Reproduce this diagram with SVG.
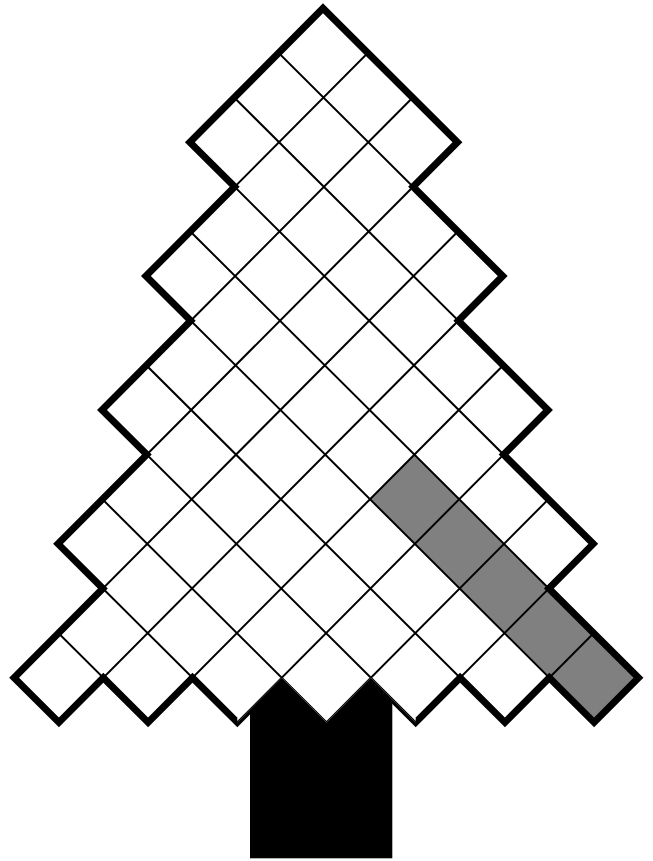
<svg xmlns="http://www.w3.org/2000/svg" width="653" height="861" viewBox="0 0 653 861">
  <defs>
    <style>
      .thin { fill: none; stroke: #000; stroke-width: 2; vector-effect: non-scaling-stroke; }
      .thick { fill: none; stroke: #000; stroke-width: 7; stroke-linejoin: miter; vector-effect: non-scaling-stroke; }
      .white { fill: #fff; stroke: none; }
      .gray { fill: #808080; stroke: none; }
    </style>
    <clipPath id="treeClip">
      <polygon points="0,0 3,0 3,1 5,1 5,2 7,2 7,3 9,3 9,4 11,4 11,5 10,5 10,6 9,6 9,7 8,7 8,8 7,8 7,9 6,9 6,10 5,10 5,11 4,11 4,9 3,9 3,7 2,7 2,5 1,5 1,3 0,3"/>
    </clipPath>
    <clipPath id="strip" clipPathUnits="userSpaceOnUse">
      <rect x="237.3" y="640" width="178.4" height="221"/>
    </clipPath>
  </defs>
  <rect width="653" height="861" fill="#fff"/>
  <g id="trunk">
    <rect x="250" y="670" width="142.3" height="188.3" fill="#000"/>
  </g>
  <g id="tree">
    <g transform="matrix(44.82 44.63 -44.38 44.63 323 8.3)">
      <polygon class="white" points="0,0 3,0 3,1 5,1 5,2 7,2 7,3 9,3 9,4 11,4 11,5 10,5 10,6 9,6 9,7 8,7 8,8 7,8 7,9 6,9 6,10 5,10 5,11 4,11 4,9 3,9 3,7 2,7 2,5 1,5 1,3 0,3"/>
      <g id="highlight">
        <rect x="6" y="4" width="5" height="1" class="gray"/>
      </g>
      <polygon class="thick" vector-effect="non-scaling-stroke" points="0,0 3,0 3,1 5,1 5,2 7,2 7,3 9,3 9,4 11,4 11,5 10,5 10,6 9,6 9,7 8,7 8,8 7,8 7,9 6,9 6,10 5,10 5,11 4,11 4,9 3,9 3,7 2,7 2,5 1,5 1,3 0,3"/>
    </g>
    <g clip-path="url(#strip)">
      <polygon transform="matrix(44.82 44.63 -44.38 44.63 323 8.3)" class="white" points="0,0 3,0 3,1 5,1 5,2 7,2 7,3 9,3 9,4 11,4 11,5 10,5 10,6 9,6 9,7 8,7 8,8 7,8 7,9 6,9 6,10 5,10 5,11 4,11 4,9 3,9 3,7 2,7 2,5 1,5 1,3 0,3"/>
    </g>
    <g id="grid" transform="matrix(44.82 44.63 -44.38 44.63 323 8.3)">
      <path clip-path="url(#treeClip)" class="thin" vector-effect="non-scaling-stroke" d="M1,-1V16M2,-1V16M3,-1V16M4,-1V16M5,-1V16M6,-1V16M7,-1V16M8,-1V16M9,-1V16M10,-1V16M11,-1V16M-1,1H16M-1,2H16M-1,3H16M-1,4H16M-1,5H16M-1,6H16M-1,7H16M-1,8H16M-1,9H16M-1,10H16M-1,11H16"/>
    </g>
  </g>
</svg>
